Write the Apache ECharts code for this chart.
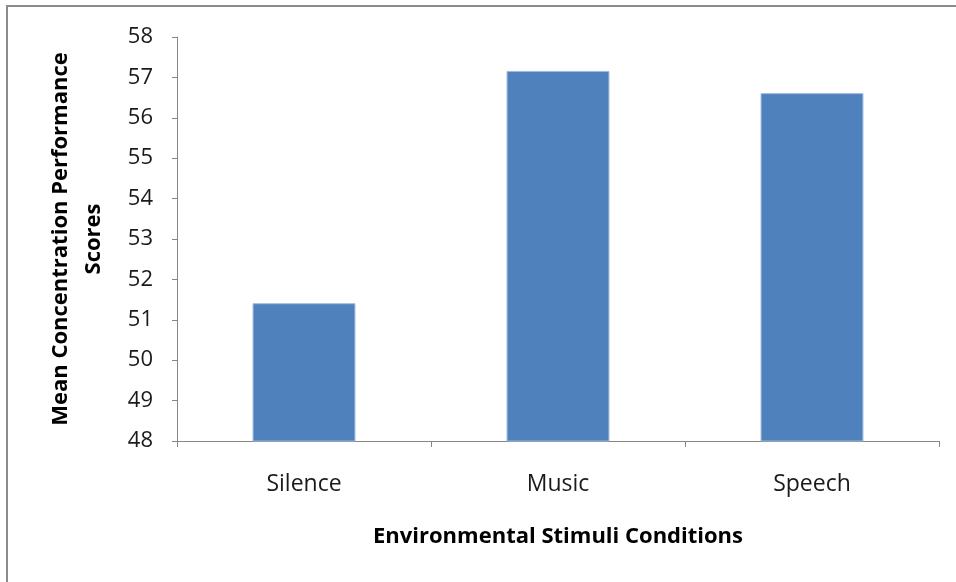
<!DOCTYPE html>
<html>
<head>
<meta charset="utf-8">
<script src="https://cdn.jsdelivr.net/npm/echarts@6/dist/echarts.min.js"></script>
<style>
  html, body { margin: 0; padding: 0; background: #fff; }
  #chart { width: 956px; height: 582px; }
</style>
</head>
<body>
<div id="chart"></div>
<script>
    // data
    var categories = ['Silence', 'Music', 'Speech'];
    var scores = [51.41, 57.16, 56.61];
    var yTicks = [48, 49, 50, 51, 52, 53, 54, 55, 56, 57, 58];

    var font = 'Open Sans';

    var option = {
        backgroundColor: '#fff',
        animation: false,
        textStyle: { fontFamily: font },
        graphic: [
            // frame round the chart (only top and left show)
            { type: 'line', shape: { x1: 6, y1: 6, x2: 956, y2: 6 }, style: { stroke: '#8c8c8c', lineWidth: 2 } },
            { type: 'line', shape: { x1: 7, y1: 6, x2: 7, y2: 582 }, style: { stroke: '#8c8c8c', lineWidth: 2 } }
        ],
        grid: {
            left: 177,
            right: 17,
            top: 37,
            bottom: 141,
            containLabel: false
        },
        xAxis: {
            type: 'category',
            data: categories,
            name: 'Environmental Stimuli Conditions',
            nameLocation: 'middle',
            nameGap: 85,
            nameTextStyle: { fontFamily: font, fontSize: 22, fontWeight: 'bold', color: '#000' },
            axisLine: { lineStyle: { color: '#868686', width: 1 } },
            axisTick: { show: true, length: 6, alignWithLabel: false, lineStyle: { color: '#868686' } },
            axisLabel: { margin: 32, fontSize: 23, color: '#1a1a1a', fontFamily: font },
            splitLine: { show: false }
        },
        yAxis: {
            type: 'value',
            min: yTicks[0],
            max: yTicks[yTicks.length - 1],
            interval: 1,
            name: 'Mean Concentration Performance\nScores',
            nameLocation: 'middle',
            nameRotate: 90,
            nameGap: 67,
            nameTextStyle: { fontFamily: font, fontSize: 22, fontWeight: 'bold', color: '#000', lineHeight: 33, align: 'center' },
            axisLine: { show: true, lineStyle: { color: '#868686', width: 1 } },
            axisTick: { show: true, length: 5, lineStyle: { color: '#868686' } },
            axisLabel: { margin: 24, fontSize: 22, color: '#1a1a1a', fontFamily: font },
            splitLine: { show: false }
        },
        series: [{
            type: 'bar',
            data: scores,
            barWidth: '40.5%',
            itemStyle: {
                color: '#4f81bd',
                borderColor: '#9db7da',
                borderWidth: 1
            }
        }]
    };

    var chart = echarts.init(document.getElementById('chart'));
    chart.setOption(option);
</script>
</body>
</html>
